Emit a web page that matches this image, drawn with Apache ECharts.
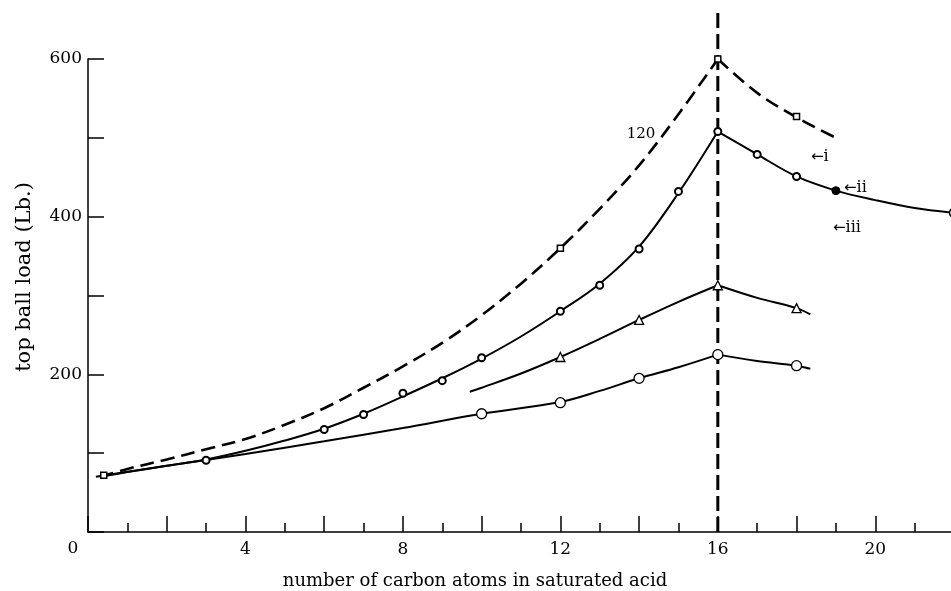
<!DOCTYPE html>
<html>
<head>
<meta charset="utf-8">
<script src="https://cdn.jsdelivr.net/npm/echarts@6/dist/echarts.min.js"></script>
<style>html,body{margin:0;padding:0;background:#fff}#c{width:951px;height:591px}</style>
</head>
<body>
<div id="c"></div>
<script>
// ---- data ----
const xTicks = [4, 8, 12, 16, 20];
const yTicks = [200, 400, 600];
const originLabel = '0';

// curve i (dashed, squares)
const iUpX = [0.3, 1, 2, 3, 4, 5, 6, 7, 8, 9, 10, 11, 12, 13, 14, 15, 16];
const iUpY = [70, 80, 92, 105, 118, 136, 157, 183, 210, 240, 275, 315, 360, 410, 465, 530, 600];
const iDownX = [16, 17, 18, 19];
const iDownY = [600, 557, 526, 500];
const iMarkX = [0.4, 12, 16, 18];
const iMarkY = [72, 360, 600, 527];

// curve ii (solid, small rings)
const iiUpX = [0.3, 1, 2, 3, 4, 5, 6, 7, 8, 9, 10, 11, 12, 13, 14, 15, 16];
const iiUpY = [70, 76, 84, 92, 103, 116, 131, 150, 172, 195, 220, 248, 280, 315, 362, 430, 508];
const iiDownX = [16, 17, 18, 19, 20, 21, 22];
const iiDownY = [508, 479, 451, 433, 421, 411, 405];
const iiMarkX = [3, 6, 7, 8, 9, 10, 12, 13, 14, 15, 16, 17, 18];
const iiMarkY = [91, 130, 149, 176, 192, 221, 280, 313, 359, 432, 508, 479, 451];
const iiFilledX = [19];
const iiFilledY = [433];
const iiEdgeX = [22];
const iiEdgeY = [405];

// triangle curve
const tUpX = [9.7, 10, 11, 12, 13, 14, 15, 16];
const tUpY = [178, 183, 201, 222, 245, 269, 292, 313];
const tDownX = [16, 17, 18, 18.35];
const tDownY = [313, 297, 284, 276];
const tMarkX = [12, 14, 16, 18];
const tMarkY = [222, 269, 313, 284];

// curve iii (solid, open circles)
const iiiUpX = [0.2, 2, 4, 6, 8, 10, 12, 13, 14, 15, 16];
const iiiUpY = [70, 84, 99, 115, 132, 150, 165, 179, 195, 209, 225];
const iiiDownX = [16, 17, 18, 18.35];
const iiiDownY = [225, 217, 211, 207];
const iiiMarkX = [10, 12, 14, 16, 18];
const iiiMarkY = [150, 164, 195, 225, 211];

// vertical dashed line at 16
const vLineX = [16, 16];
const vLineY = [0, 661];

const zip = (xs, ys) => xs.map((x, i) => [x, ys[i]]);
const FONT = "'DejaVu Serif', 'Liberation Serif', serif";
const ARROWFONT = "'DejaVu Sans', sans-serif";

function curve(xs, ys, dashed) {
  return {
    type: 'line', data: zip(xs, ys), smooth: 0.35, showSymbol: false, symbol: 'none',
    lineStyle: { color: '#000', width: dashed ? 2.6 : 2, type: dashed ? [14, 7] : 'solid' },
    silent: true, z: 2
  };
}
function marks(xs, ys, symbol, size, fill, bw) {
  return {
    type: 'scatter', data: zip(xs, ys), symbol: symbol, symbolSize: size,
    itemStyle: { color: fill, borderColor: '#000', borderWidth: bw, opacity: 1 },
    silent: true, z: 4, clip: false
  };
}
function label(text, x, y) {
  return {
    type: 'text', x: x, y: y,
    style: {
      text: '{a|←}{b|' + text + '}',
      rich: {
        a: { font: "15px " + ARROWFONT, fill: '#000' },
        b: { font: "16px " + FONT, fill: '#000' }
      },
      textAlign: 'left', textVerticalAlign: 'middle'
    }
  };
}

const chart = echarts.init(document.getElementById('c'), null, { renderer: 'canvas' });
chart.setOption({
  backgroundColor: '#fff',
  animation: false,
  grid: { left: 88, top: 59, width: 866, height: 473, containLabel: false, outerBoundsMode: 'none' },
  xAxis: {
    type: 'value', min: 0, max: 22, interval: 2,
    axisLine: { lineStyle: { color: '#000', width: 1.5 } },
    axisTick: { inside: true, length: 16, lineStyle: { color: '#000', width: 1.5 } },
    minorTick: { show: true, splitNumber: 2, length: 9, lineStyle: { color: '#000', width: 1.5 } },
    splitLine: { show: false },
    axisLabel: {
      margin: 9, color: '#000', fontFamily: FONT, fontSize: 17,
      formatter: v => (xTicks.indexOf(v) >= 0 ? String(v) : '')
    }
  },
  yAxis: {
    type: 'value', min: 0, max: 600, interval: 100,
    axisLine: { lineStyle: { color: '#000', width: 1.5 } },
    axisTick: { inside: true, length: 16, lineStyle: { color: '#000', width: 1.5 } },
    splitLine: { show: false },
    axisLabel: {
      margin: 6, color: '#000', fontFamily: FONT, fontSize: 17,
      formatter: v => (yTicks.indexOf(v) >= 0 ? String(v) : '')
    }
  },
  graphic: [
    { type: 'text', x: 25, y: 277, rotation: Math.PI / 2,
      style: { text: 'top ball load (Lb.)', font: "21px " + FONT, fill: '#000', textAlign: 'center', textVerticalAlign: 'middle' } },
    { type: 'text', x: 475, y: 581,
      style: { text: 'number of carbon atoms in saturated acid', font: "18px " + FONT, fill: '#000', textAlign: 'center', textVerticalAlign: 'middle' } },
    { type: 'text', x: 73, y: 549,
      style: { text: originLabel, font: "17px " + FONT, fill: '#000', textAlign: 'center', textVerticalAlign: 'middle' } },
    { type: 'text', x: 641, y: 134,
      style: { text: '120', font: "15px " + FONT, fill: '#000', textAlign: 'center', textVerticalAlign: 'middle' } },
    label('i', 811, 157),
    label('ii', 844, 188),
    label('iii', 833, 228)
  ],
  series: [
    {
      type: 'line', data: zip(vLineX, vLineY), showSymbol: false, symbol: 'none', clip: false,
      lineStyle: { color: '#000', width: 3, type: [15, 6] }, silent: true, z: 1
    },
    curve(iUpX, iUpY, true),
    curve(iDownX, iDownY, true),
    curve(iiUpX, iiUpY, false),
    curve(iiDownX, iiDownY, false),
    curve(tUpX, tUpY, false),
    curve(tDownX, tDownY, false),
    curve(iiiUpX, iiiUpY, false),
    curve(iiiDownX, iiiDownY, false),
    marks(iMarkX, iMarkY, 'rect', 6, '#fff', 1.5),
    marks(iiMarkX, iiMarkY, 'circle', 7, '#fff', 2),
    marks(iiFilledX, iiFilledY, 'circle', 8, '#000', 1),
    marks(iiEdgeX, iiEdgeY, 'circle', 9, '#fff', 1.5),
    marks(tMarkX, tMarkY, 'triangle', 9, '#fff', 1.3),
    marks(iiiMarkX, iiiMarkY, 'circle', 10, '#fff', 1.3)
  ]
});
</script>
</body>
</html>
